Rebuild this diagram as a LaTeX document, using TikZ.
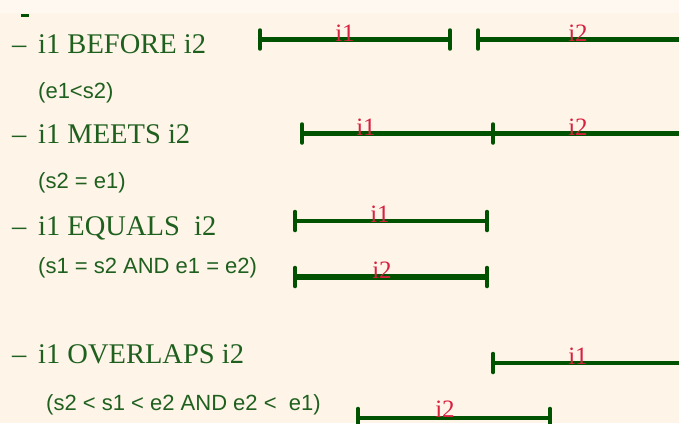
\documentclass[tikz,border=0pt]{standalone}
\usepackage{fontspec}
\setmainfont{Liberation Serif}
\setsansfont{Liberation Sans}
\definecolor{bgcol}{HTML}{FEF4E8}
\definecolor{topcol}{HTML}{FEF8F1}
\definecolor{txtgreen}{HTML}{1F601F}
\definecolor{bargreen}{HTML}{005200}
\definecolor{lblred}{HTML}{D8203F}
\begin{document}
\begin{tikzpicture}[x=1pt,y=-1pt,
  head/.style={anchor=base west,inner sep=0pt,text=txtgreen,font=\fontsize{28.5}{30}\selectfont},
  sub/.style={anchor=base west,inner sep=0pt,text=txtgreen,font=\sffamily\fontsize{22}{24}\selectfont},
  lbl/.style={anchor=base,inner sep=0pt,text=lblred,font=\fontsize{25}{26}\selectfont},
  bar/.style={draw=bargreen,line width=4.5pt},
  thickbar/.style={draw=bargreen,line width=5.5pt},
  tick/.style={draw=bargreen,line width=3.5pt,line cap=round}]
\useasboundingbox (0,0) rectangle (679,423);
\fill[bgcol] (0,0) rectangle (679,423);
\fill[topcol] (0,0) rectangle (679,13);
% cropped mark at top
\coordinate (m1) at (21,15.5);
\coordinate (m2) at (29,15.5);
\draw[bargreen,line width=2.5pt] (m1) -- (m2);

% headings
\node[head] (d1) at (12,53) {–};
\node[head] (h1) at (38,53) {i1 BEFORE i2};
\node[sub] (s1) at (38,98) {(e1<s2)};
\node[head] (d2) at (12,143) {–};
\node[head] (h2) at (38,143) {i1 MEETS i2};
\node[sub] (s2) at (38,188) {(s2 = e1)};
\node[head] (d3) at (12,235) {–};
\node[head] (h3) at (38,235) {i1 EQUALS\ \ i2};
\node[sub] (s3) at (38,273) {(s1 = s2 AND e1 = e2)};
\node[head] (d4) at (12,363) {–};
\node[head] (h4) at (38,363) {i1 OVERLAPS i2};
\node[sub] (s4) at (46,410) {(s2 < s1 < e2 AND e2 <\ \ e1)};

% row 1: before
\coordinate (a1s) at (260,39.5);
\coordinate (a1e) at (450,39.5);
\coordinate (a2s) at (478,39.5);
\coordinate (a2e) at (679,39.5);
\draw[thickbar] (a1s) -- (a1e);
\draw[thickbar] (a2s) -- (a2e);
\foreach \c in {a1s,a1e,a2s}
  \draw[tick] ([yshift=-9.5pt]\c) -- ([yshift=9.5pt]\c);
\node[lbl] (la1) at (345,41) {i1};
\node[lbl] (la2) at (578,41) {i2};

% row 2: meets
\coordinate (b1s) at (302,133.5);
\coordinate (b1e) at (493,133.5);
\coordinate (b2e) at (679,133.5);
\draw[bar] (b1s) -- (b1e);
\draw[bar] (b1e) -- (b2e);
\foreach \c in {b1s,b1e}
  \draw[tick] ([yshift=-9.5pt]\c) -- ([yshift=9.5pt]\c);
\node[lbl] (lb1) at (366,135) {i1};
\node[lbl] (lb2) at (578,135) {i2};

% row 3: equals
\coordinate (c1s) at (295,221);
\coordinate (c1e) at (487,221);
\coordinate (c2s) at (295,277);
\coordinate (c2e) at (487,277);
\draw[bar] (c1s) -- (c1e);
\draw[thickbar] (c2s) -- (c2e);
\foreach \c in {c1s,c1e,c2s,c2e}
  \draw[tick] ([yshift=-9.5pt]\c) -- ([yshift=9.5pt]\c);
\node[lbl] (lc1) at (380,222.5) {i1};
\node[lbl] (lc2) at (382,278.5) {i2};

% row 4: overlaps
\coordinate (d1s) at (493,363);
\coordinate (d1e) at (679,363);
\coordinate (d2s) at (358,418);
\coordinate (d2e) at (550,418);
\draw[bar] (d1s) -- (d1e);
\draw[bar] (d2s) -- (d2e);
\foreach \c in {d1s,d2s,d2e}
  \draw[tick] ([yshift=-9.5pt]\c) -- ([yshift=9.5pt]\c);
\node[lbl] (ld1) at (578,364.5) {i1};
\node[lbl] (ld2) at (445,417) {i2};
\end{tikzpicture}
\end{document}
